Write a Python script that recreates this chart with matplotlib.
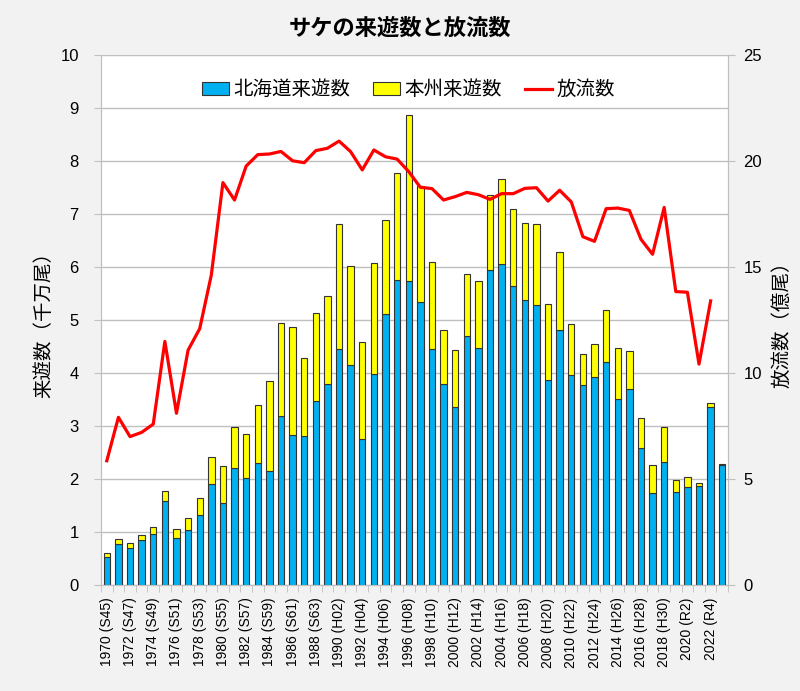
import numpy as np
import matplotlib
matplotlib.use("Agg")
import matplotlib.pyplot as plt
from matplotlib.patches import Patch
from matplotlib.lines import Line2D

plt.rcParams["font.family"] = ["Liberation Sans", "Noto Sans CJK JP", "DejaVu Sans"]

# Years and era labels
years = list(range(1970, 2024))
era_labels = ["S45", "S47", "S49", "S51", "S53", "S55", "S57", "S59", "S61", "S63",
              "H02", "H04", "H06", "H08", "H10", "H12", "H14", "H16", "H18", "H20",
              "H22", "H24", "H26", "H28", "H30", "R2", "R4"]

# Returning salmon, Hokkaido (10 million fish)
hokkaido = [0.53, 0.77, 0.70, 0.84, 0.97, 1.58, 0.89, 1.03, 1.32, 1.90,
            1.55, 2.20, 2.01, 2.30, 2.16, 3.19, 2.83, 2.82, 3.48, 3.79,
            4.45, 4.15, 2.75, 3.99, 5.11, 5.76, 5.73, 5.34, 4.46, 3.80,
            3.35, 4.69, 4.47, 5.94, 6.05, 5.64, 5.37, 5.28, 3.87, 4.81,
            3.97, 3.77, 3.92, 4.21, 3.51, 3.69, 2.58, 1.74, 2.32, 1.75,
            1.84, 1.87, 3.35, 2.26]

# Total returning (Hokkaido + Honshu)
total = [0.60, 0.87, 0.80, 0.94, 1.09, 1.77, 1.05, 1.26, 1.64, 2.41,
         2.25, 2.99, 2.84, 3.40, 3.84, 4.94, 4.86, 4.29, 5.13, 5.45,
         6.81, 6.01, 4.59, 6.07, 6.88, 7.77, 8.86, 7.53, 6.10, 4.82,
         4.44, 5.87, 5.73, 7.35, 7.66, 7.10, 6.83, 6.82, 5.30, 6.29,
         4.93, 4.35, 4.55, 5.19, 4.47, 4.42, 3.16, 2.26, 2.98, 1.98,
         2.03, 1.93, 3.43, 2.29]
honshu = [t - h for t, h in zip(total, hokkaido)]

# Released fry (100 million), 1970-2022
released = [5.86, 7.91, 7.00, 7.20, 7.59, 11.49, 8.10, 11.08, 12.09, 14.62,
            18.98, 18.16, 19.76, 20.30, 20.33, 20.45, 20.01, 19.92, 20.49, 20.60,
            20.94, 20.44, 19.58, 20.52, 20.20, 20.09, 19.50, 18.76, 18.70, 18.16,
            18.32, 18.52, 18.41, 18.19, 18.46, 18.46, 18.71, 18.74, 18.11, 18.62,
            18.07, 16.43, 16.21, 17.75, 17.78, 17.67, 16.31, 15.60, 17.81, 13.84,
            13.81, 10.42, 13.40]

x = np.arange(len(years))
grid_gray = "#c0c0c0"

fig = plt.figure(figsize=(8, 6.91), dpi=100, facecolor="#f2f2f2")
ax1 = fig.add_axes([0.12625, 0.1534, 0.7838, 0.767])
ax1.set_facecolor("white")

# Stacked bars
ax1.bar(x, hokkaido, width=0.55, color="#00b0f0", edgecolor="#333333", linewidth=0.8, zorder=2)
ax1.bar(x, honshu, width=0.55, bottom=hokkaido, color="#ffff00", edgecolor="#333333", linewidth=0.8, zorder=2)

ax1.set_xlim(-0.5, len(years) - 0.5)
ax1.set_ylim(0, 10)
ax1.set_yticks(range(0, 11))
ax1.yaxis.grid(True, color=grid_gray, linewidth=1)
ax1.set_axisbelow(True)

# x labels every 2 years, boundary ticks between bars
even = x[::2]
ax1.set_xticks(even)
ax1.set_xticklabels([f"{years[i]} ({e})" for i, e in zip(even, era_labels)], rotation=90, fontsize=10)
ax1.set_xticks(np.arange(-0.5, len(years), 1), minor=True)
ax1.tick_params(axis="x", which="major", length=0, pad=9)
ax1.tick_params(axis="x", which="minor", length=5, color=grid_gray)
ax1.tick_params(axis="y", length=5, color=grid_gray, labelsize=12, pad=11)
ax1.set_ylabel("来遊数（千万尾）", fontsize=14, labelpad=5)

# Release line on right axis
ax2 = ax1.twinx()
ax2.plot(x[:len(released)], released, color="#ff0000", linewidth=2.3, zorder=3)
ax2.set_ylim(0, 25)
ax2.set_yticks(range(0, 26, 5))
ax2.tick_params(axis="y", length=5, color=grid_gray, labelsize=12, pad=6)
ax2.set_ylabel("放流数（億尾）", fontsize=14, labelpad=8)

for ax in (ax1, ax2):
    ax.spines["top"].set_visible(False)
    for s in ("left", "right", "bottom"):
        ax.spines[s].set_color(grid_gray)

# Legend
handles = [Patch(facecolor="#00b0f0", edgecolor="#333333", linewidth=0.8),
           Patch(facecolor="#ffff00", edgecolor="#333333", linewidth=0.8),
           Line2D([], [], color="#ff0000", linewidth=2.3)]
ax2.legend(handles, ["北海道来遊数", "本州来遊数", "放流数"], loc="upper center",
           bbox_to_anchor=(0.49, 0.985), ncol=3, frameon=False, fontsize=14,
           handlelength=1.4, handleheight=0.6, handletextpad=0.2, columnspacing=1.2)

fig.text(0.5, 0.958, "サケの来遊数と放流数", ha="center", va="center",
         fontsize=16, fontweight="bold")

fig.savefig("out.png", dpi=100, facecolor=fig.get_facecolor())
